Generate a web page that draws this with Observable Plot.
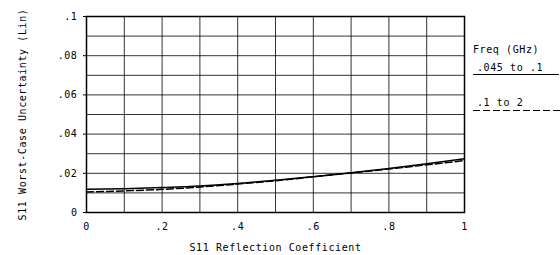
<!DOCTYPE html>
<html>
<head>
<meta charset="utf-8">
<script src="https://cdn.jsdelivr.net/npm/d3@7"></script>
<script src="https://cdn.jsdelivr.net/npm/@observablehq/plot@0.6"></script>
<style>
  html, body { margin: 0; padding: 0; background: #fff; }
  #wrap { position: relative; width: 560px; height: 255px; }
  #legend { position: absolute; left: 470px; top: 44px; font-family: "DejaVu Sans Mono", monospace; font-size: 10px; letter-spacing: 0.6px; color: #000; }
  #legend div { white-space: pre; }
  .l1 { position: absolute; left: 3px; top: 18px; border-bottom: 1.5px solid #000; width: 82px; padding-left: 4px; padding-bottom: 1px; }
  .l2 { position: absolute; left: 3px; top: 53px; width: 86px; padding-left: 4px; padding-bottom: 3px;
        background-image: repeating-linear-gradient(90deg, #000 0 7px, transparent 7px 10px);
        background-size: 100% 1.5px; background-repeat: no-repeat; background-position: left bottom; }
</style>
</head>
<body>
<div id="wrap">
  <div id="chart"></div>
  <div id="legend">
    <div style="position:absolute;left:3px;top:0">Freq (GHz)</div>
    <div class="l1">.045 to .1</div>
    <div class="l2">.1 to 2</div>
  </div>
</div>
<script>
const refl = [0, 0.1, 0.2, 0.3, 0.4, 0.5, 0.6, 0.7, 0.8, 0.9, 1.0];
const lowBand = [0.0118, 0.0121, 0.0127, 0.0135, 0.0148, 0.0164, 0.0183, 0.0203, 0.0225, 0.0249, 0.0274];
const highBand = [0.0105, 0.0110, 0.0118, 0.0130, 0.0145, 0.0162, 0.0182, 0.0202, 0.0222, 0.0243, 0.0265];
const xTickVals = [0, 0.2, 0.4, 0.6, 0.8, 1];
const xTickLabels = ["0", ".2", ".4", ".6", ".8", "1"];
const yTickVals = [0, 0.02, 0.04, 0.06, 0.08, 0.1];
const yTickLabels = ["0", ".02", ".04", ".06", ".08", ".1"];
const xGrid = [0.1, 0.2, 0.3, 0.4, 0.5, 0.6, 0.7, 0.8, 0.9];
const yGrid = [0.01, 0.02, 0.03, 0.04, 0.05, 0.06, 0.07, 0.08, 0.09];

const low = refl.map((x, i) => ({x, y: lowBand[i]}));
const high = refl.map((x, i) => ({x, y: highBand[i]}));

const font = "DejaVu Sans Mono";
const chart = Plot.plot({
  width: 560,
  height: 255,
  marginLeft: 86,
  marginRight: 96,
  marginTop: 16,
  marginBottom: 43,
  style: {fontFamily: font, fontSize: "10px", letterSpacing: "0.6px", color: "#000", background: "#fff"},
  x: {domain: [0, 1]},
  y: {domain: [0, 0.1]},
  marks: [
    Plot.gridX(xGrid, {stroke: "#000", strokeOpacity: 0.8, strokeWidth: 1}),
    Plot.gridY(yGrid, {stroke: "#000", strokeOpacity: 0.8, strokeWidth: 1}),
    Plot.frame({stroke: "#000", strokeWidth: 1.5}),
    Plot.axisX(xTickVals, {tickSize: 0, tickPadding: 10, tickFormat: (d, i) => xTickLabels[i], label: "S11 Reflection Coefficient", labelAnchor: "center", labelArrow: "none", labelOffset: 38}),
    Plot.axisY(yTickVals, {tickSize: 3, tickPadding: 6, tickFormat: (d, i) => yTickLabels[i], label: "S11 Worst-Case Uncertainty (Lin)", labelAnchor: "center", labelArrow: "none", labelOffset: 68}),
    Plot.line(high, {x: "x", y: "y", stroke: "#000", strokeWidth: 1.5, strokeDasharray: "7,3", curve: "monotone-x"}),
    Plot.line(low, {x: "x", y: "y", stroke: "#000", strokeWidth: 1.5, curve: "monotone-x"})
  ]
});
document.getElementById("chart").appendChild(chart);
</script>
</body>
</html>
